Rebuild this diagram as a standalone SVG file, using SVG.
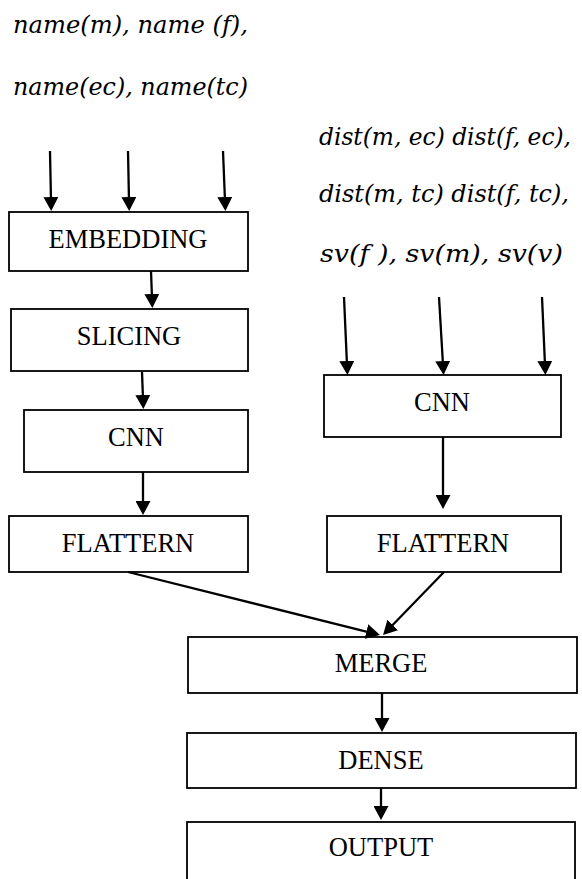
<svg xmlns="http://www.w3.org/2000/svg" width="582" height="879" viewBox="0 0 582 879">
  <style>
    .box { fill: #ffffff; stroke: #000000; stroke-width: 1.8; }
    .lbl { font-family: "Liberation Serif", "Times New Roman", serif; font-size: 26.5px; fill: #000000; text-anchor: middle; }
    .math { font-family: "DejaVu Serif", "Liberation Serif", serif; font-style: italic; font-size: 24px; fill: #000000; }
    .edge { fill: none; stroke: #000000; stroke-width: 2.3; }
  </style>
  <defs>
    <marker id="arrow" markerUnits="userSpaceOnUse" markerWidth="15" markerHeight="15" refX="4" refY="7.5" orient="auto">
      <path d="M0,0 L14,7.5 L0,15 Z" fill="#000000"/>
    </marker>
  </defs>

  <rect width="582" height="879" fill="#ffffff"/>

  <!-- input labels -->
  <g id="inputs-name">
    <text class="math" x="13" y="33" textLength="235" lengthAdjust="spacingAndGlyphs">name(m), name (f),</text>
    <text class="math" x="13" y="95" textLength="235" lengthAdjust="spacingAndGlyphs">name(ec), name(tc)</text>
  </g>
  <g id="inputs-dist">
    <text class="math" x="319" y="145" textLength="252" lengthAdjust="spacingAndGlyphs">dist(m, ec) dist(f, ec),</text>
    <text class="math" x="319" y="202" textLength="250" lengthAdjust="spacingAndGlyphs">dist(m, tc) dist(f, tc),</text>
    <text class="math" x="320" y="262" textLength="243" lengthAdjust="spacingAndGlyphs">sv(f ), sv(m), sv(v)</text>
  </g>

  <!-- left branch -->
  <g id="embedding">
    <rect class="box" x="9" y="212" width="239" height="59"/>
    <text class="lbl" x="128" y="248">EMBEDDING</text>
  </g>
  <g id="slicing">
    <rect class="box" x="11" y="309" width="237" height="62"/>
    <text class="lbl" x="129" y="345">SLICING</text>
  </g>
  <g id="cnn-left">
    <rect class="box" x="24" y="410" width="224" height="62"/>
    <text class="lbl" x="136" y="446">CNN</text>
  </g>
  <g id="flattern-left">
    <rect class="box" x="9" y="516" width="239" height="56"/>
    <text class="lbl" x="128" y="552">FLATTERN</text>
  </g>

  <!-- right branch -->
  <g id="cnn-right">
    <rect class="box" x="324" y="375" width="237" height="62"/>
    <text class="lbl" x="442" y="411">CNN</text>
  </g>
  <g id="flattern-right">
    <rect class="box" x="327" y="516" width="234" height="56"/>
    <text class="lbl" x="443" y="552">FLATTERN</text>
  </g>

  <!-- merged trunk -->
  <g id="merge">
    <rect class="box" x="188" y="637" width="389" height="56"/>
    <text class="lbl" x="381" y="672">MERGE</text>
  </g>
  <g id="dense">
    <rect class="box" x="187" y="733" width="389" height="55"/>
    <text class="lbl" x="381" y="769">DENSE</text>
  </g>
  <g id="output">
    <rect class="box" x="187" y="822" width="388" height="70"/>
    <text class="lbl" x="381" y="856">OUTPUT</text>
  </g>

  <!-- connectors -->
  <g id="connectors">
    <line class="edge" x1="50" y1="151" x2="51" y2="201" marker-end="url(#arrow)"/>
    <line class="edge" x1="128" y1="151" x2="129" y2="201" marker-end="url(#arrow)"/>
    <line class="edge" x1="223" y1="151" x2="225" y2="201" marker-end="url(#arrow)"/>

    <line class="edge" x1="151" y1="271" x2="152" y2="298" marker-end="url(#arrow)"/>
    <line class="edge" x1="142" y1="372" x2="143" y2="399" marker-end="url(#arrow)"/>
    <line class="edge" x1="143" y1="472" x2="143" y2="505" marker-end="url(#arrow)"/>

    <line class="edge" x1="344" y1="297" x2="347" y2="365" marker-end="url(#arrow)"/>
    <line class="edge" x1="439" y1="297" x2="443" y2="365" marker-end="url(#arrow)"/>
    <line class="edge" x1="542" y1="297" x2="545" y2="365" marker-end="url(#arrow)"/>

    <line class="edge" x1="443" y1="437" x2="443" y2="499" marker-end="url(#arrow)"/>

    <line class="edge" x1="128" y1="572" x2="370.3" y2="632.6" marker-end="url(#arrow)"/>
    <line class="edge" x1="444" y1="572" x2="390" y2="627.8" marker-end="url(#arrow)"/>

    <line class="edge" x1="382" y1="693" x2="382" y2="722" marker-end="url(#arrow)"/>
    <line class="edge" x1="381" y1="788" x2="381" y2="810" marker-end="url(#arrow)"/>
  </g>
</svg>
